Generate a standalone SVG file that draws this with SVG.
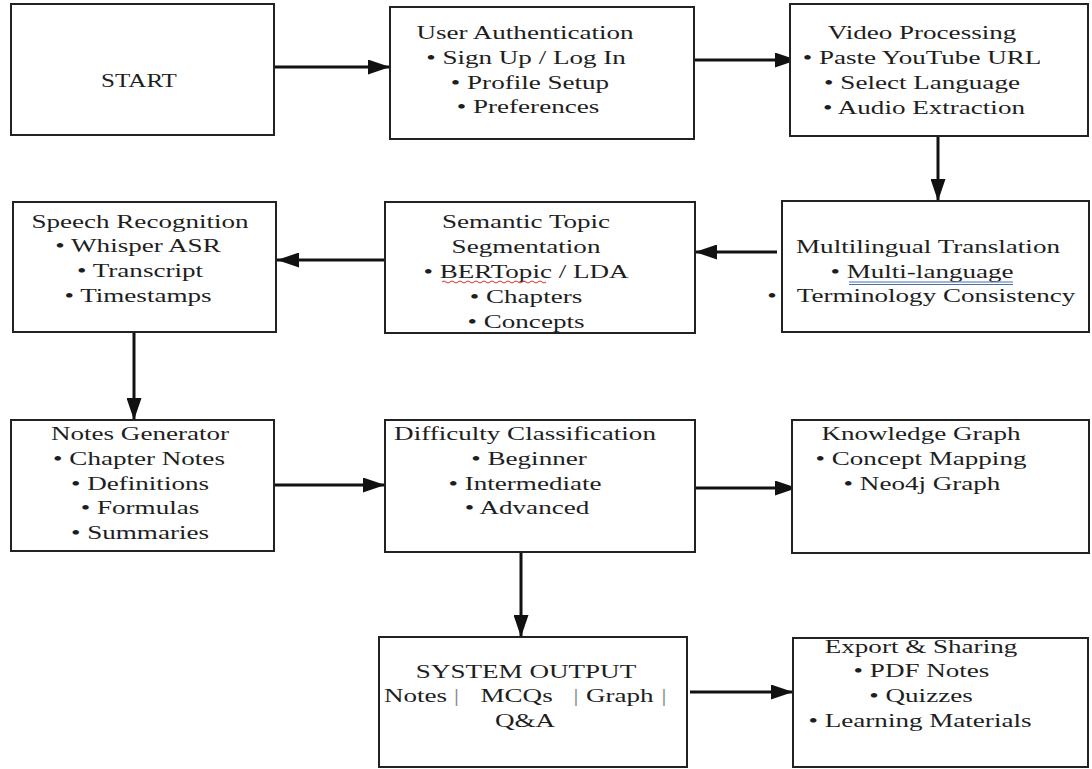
<svg xmlns="http://www.w3.org/2000/svg" width="1092" height="769" viewBox="0 0 1092 769">
<defs>
<style>
.box{fill:#fff;stroke:#222;stroke-width:2}
.t{font-family:"Liberation Serif","Times New Roman",serif;font-size:19px;fill:#1e1e1e;text-anchor:middle}
.s{text-anchor:start}
.bar{fill:#8a8a8a}
.c{fill:none;stroke:#111;stroke-width:3;marker-end:url(#ah)}
</style>
<marker id="ah" viewBox="0 0 22 15" refX="22" refY="7.5" markerWidth="22" markerHeight="15" markerUnits="userSpaceOnUse" orient="auto">
<path d="M0,0 L22,7.5 L0,15 z" fill="#111"/>
</marker>
</defs>
<rect width="1092" height="769" fill="#fff"/>

<g id="connectors">
<line class="c" x1="274" y1="67" x2="390" y2="67"/>
<line class="c" x1="695" y1="60" x2="797" y2="60"/>
<line class="c" x1="938" y1="134" x2="938" y2="201"/>
<line class="c" x1="777" y1="252" x2="695" y2="252"/>
<line class="c" x1="384" y1="260" x2="277" y2="260"/>
<line class="c" x1="134" y1="332" x2="134" y2="420"/>
<line class="c" x1="272" y1="485" x2="385" y2="485"/>
<line class="c" x1="696" y1="488" x2="797" y2="488"/>
<line class="c" x1="521" y1="552" x2="521" y2="637"/>
<line class="c" x1="690" y1="692" x2="793" y2="692"/>
</g>

<g id="start">
<rect class="box" x="11" y="4" width="263" height="131"/>
<text class="t" transform="translate(139,87) scale(1.32 1)">START</text>
</g>

<g id="user-auth">
<rect class="box" x="390" y="7" width="304" height="132"/>
<text class="t" transform="translate(525,39) scale(1.426 1)">User Authentication</text>
<text class="t" transform="translate(526,64) scale(1.426 1)">• Sign Up / Log In</text>
<text class="t" transform="translate(530,89) scale(1.426 1)">• Profile Setup</text>
<text class="t" transform="translate(528,113) scale(1.426 1)">• Preferences</text>
</g>

<g id="video-processing">
<rect class="box" x="790" y="4" width="298" height="132"/>
<text class="t" transform="translate(922,39) scale(1.426 1)">Video Processing</text>
<text class="t" transform="translate(922,64) scale(1.426 1)">• Paste YouTube URL</text>
<text class="t" transform="translate(922,89) scale(1.426 1)">• Select Language</text>
<text class="t" transform="translate(924,114) scale(1.426 1)">• Audio Extraction</text>
</g>

<g id="speech-recognition">
<rect class="box" x="13" y="202" width="263" height="130"/>
<text class="t" transform="translate(140,228) scale(1.426 1)">Speech Recognition</text>
<text class="t" transform="translate(138,252) scale(1.426 1)">• Whisper ASR</text>
<text class="t" transform="translate(140,277) scale(1.426 1)">• Transcript</text>
<text class="t" transform="translate(138,302) scale(1.426 1)">• Timestamps</text>
</g>

<g id="semantic-topic-segmentation">
<rect class="box" x="385" y="202" width="310" height="131"/>
<text class="t" transform="translate(526,228) scale(1.426 1)">Semantic Topic</text>
<text class="t" transform="translate(526,253) scale(1.426 1)">Segmentation</text>
<text class="t" transform="translate(526,278) scale(1.426 1)">• BERTopic / LDA</text>
<path d="M442,282 q2,-2 4,0 t4,0 t4,0 t4,0 t4,0 t4,0 t4,0 t4,0 t4,0 t4,0 t4,0 t4,0 t4,0 t4,0 t4,0 t4,0 t4,0 t4,0 t4,0 t4,0 t4,0 t4,0 t4,0 t4,0 t4,0 t4,0" fill="none" stroke="#d03030" stroke-width="1"/>
<text class="t" transform="translate(526,303) scale(1.426 1)">• Chapters</text>
<text class="t" transform="translate(526,328) scale(1.426 1)">• Concepts</text>
</g>

<g id="multilingual-translation">
<rect class="box" x="782" y="201" width="307" height="131"/>
<text class="t" transform="translate(928,253) scale(1.426 1)">Multilingual Translation</text>
<text class="t" transform="translate(922,278) scale(1.426 1)">• Multi-language</text>
<line x1="849" y1="282" x2="1013" y2="282" stroke="#4a6fb0" stroke-width="1"/>
<line x1="849" y1="284.5" x2="1013" y2="284.5" stroke="#4a6fb0" stroke-width="1"/>
<text class="t" transform="translate(772,302) scale(1.426 1)">•</text>
<text class="t" transform="translate(936,302) scale(1.426 1)">Terminology Consistency</text>
</g>

<g id="notes-generator">
<rect class="box" x="11" y="420" width="263" height="131"/>
<text class="t" transform="translate(140,440) scale(1.426 1)">Notes Generator</text>
<text class="t" transform="translate(139,465) scale(1.426 1)">• Chapter Notes</text>
<text class="t" transform="translate(140,490) scale(1.426 1)">• Definitions</text>
<text class="t" transform="translate(140,514) scale(1.426 1)">• Formulas</text>
<text class="t" transform="translate(140,539) scale(1.426 1)">• Summaries</text>
</g>

<g id="difficulty-classification">
<rect class="box" x="385" y="420" width="310" height="132"/>
<text class="t" transform="translate(525,440) scale(1.426 1)">Difficulty Classification</text>
<text class="t" transform="translate(529,465) scale(1.426 1)">• Beginner</text>
<text class="t" transform="translate(525,490) scale(1.426 1)">• Intermediate</text>
<text class="t" transform="translate(527,514) scale(1.426 1)">• Advanced</text>
</g>

<g id="knowledge-graph">
<rect class="box" x="792" y="420" width="297" height="133"/>
<text class="t" transform="translate(921,440) scale(1.426 1)">Knowledge Graph</text>
<text class="t" transform="translate(921,465) scale(1.426 1)">• Concept Mapping</text>
<text class="t" transform="translate(922,490) scale(1.426 1)">• Neo4j Graph</text>
</g>

<g id="system-output">
<rect class="box" x="379" y="637" width="308" height="130"/>
<text class="t" transform="translate(526,678) scale(1.426 1)">SYSTEM OUTPUT</text>
<text class="t s" transform="translate(384,702) scale(1.426 1)">Notes</text>
<text class="t bar" transform="translate(456.5,702) scale(1.426 1)">|</text>
<text class="t s" transform="translate(480.5,702) scale(1.426 1)">MCQs</text>
<text class="t bar" transform="translate(576,702) scale(1.426 1)">|</text>
<text class="t s" transform="translate(586,702) scale(1.426 1)">Graph</text>
<text class="t bar" transform="translate(664,702) scale(1.426 1)">|</text>
<text class="t" transform="translate(525,727) scale(1.426 1)">Q&amp;A</text>
</g>

<g id="export-sharing">
<rect class="box" x="793" y="638" width="295" height="129"/>
<text class="t" transform="translate(921,653) scale(1.426 1)">Export &amp; Sharing</text>
<text class="t" transform="translate(921.5,677) scale(1.426 1)">• PDF Notes</text>
<text class="t" transform="translate(921,702) scale(1.426 1)">• Quizzes</text>
<text class="t" transform="translate(920,727) scale(1.426 1)">• Learning Materials</text>
</g>
</svg>
